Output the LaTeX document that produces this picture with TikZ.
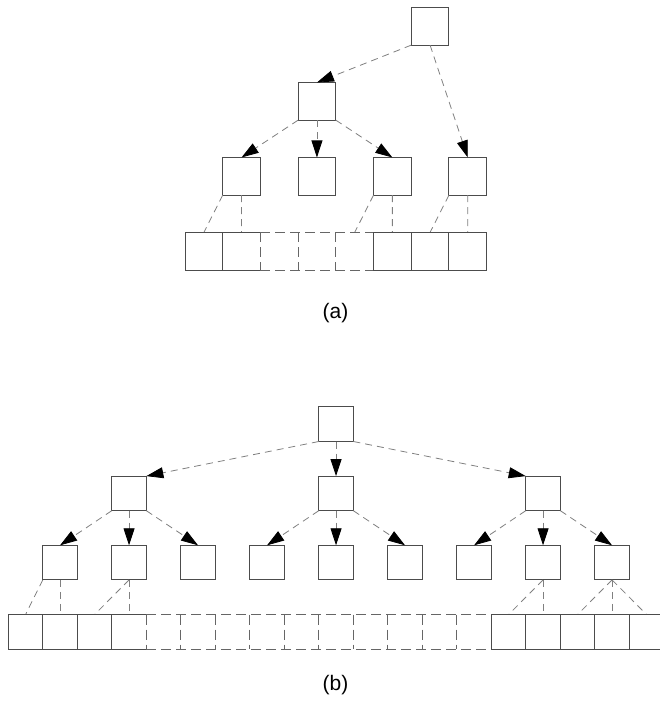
\documentclass[tikz,border=0pt]{standalone}
\usepackage{fontspec}
\setmainfont{Liberation Sans}
\usetikzlibrary{arrows.meta}
\begin{document}
\begin{tikzpicture}[x=1pt,y=-1pt,
  bx/.style={draw=black!70,line width=0.9pt,minimum size=#1,inner sep=0pt,outer sep=0pt},
  cl/.style={minimum size=#1,inner sep=0pt,outer sep=0pt},
  conn/.style={draw=black!50,line width=0.8pt,dash pattern=on 7pt off 5pt},
  arr/.style={conn,-{Triangle[length=17pt,width=11pt,color=black]}},
  rowsolid/.style={draw=black!70,line width=0.9pt},
  rowdash/.style={draw=black!60,line width=0.9pt,dash pattern=on 10pt off 5pt},
  lbl/.style={font=\fontsize{21}{25}\selectfont,inner sep=0pt}]
\useasboundingbox (0,0) rectangle (660,701);

% ---------------- (a) ----------------
\foreach \i in {1,...,8} \node[cl=37.7pt] (ac\i) at ({185+(\i-0.5)*37.7},251.3) {};
\node[bx=37.7pt] (ar) at (430.05,26.3) {};
\node[bx=37.7pt] (am) at (316.95,101.3) {};
\node[bx=37.7pt] (al1) at (241.55,176.3) {};
\node[bx=37.7pt] (al2) at (316.95,176.3) {};
\node[bx=37.7pt] (al3) at (392.35,176.3) {};
\node[bx=37.7pt] (al4) at (467.75,176.3) {};

\draw[arr] (ar.south west) -- (am.north);
\draw[arr] (ar.south) -- (al4.north);
\draw[arr] (am.south west) -- (al1.north);
\draw[arr] (am.south) -- (al2.north);
\draw[arr] (am.south east) -- (al3.north);

\draw[conn] (al1.south west) -- (ac1.north);
\draw[conn] (al1.south) -- (ac2.north);
\draw[conn] (al3.south west) -- (ac5.north);
\draw[conn] (al3.south) -- (ac6.north);
\draw[conn] (al4.south west) -- (ac7.north);
\draw[conn] (al4.south) -- (ac8.north);

\draw[rowsolid] (ac2.north east) -- (ac1.north west) -- (ac1.south west) -- (ac2.south east)
  (ac2.north west) -- (ac2.south west);
\draw[rowdash] (ac2.north east) -- (ac6.north west) (ac2.south east) -- (ac6.south west)
  (ac3.north west) -- (ac3.south west) (ac4.north west) -- (ac4.south west)
  (ac5.north west) -- (ac5.south west);
\draw[rowsolid] (ac6.north west) rectangle (ac8.south east)
  (ac7.north west) -- (ac7.south west) (ac8.north west) -- (ac8.south west);

\node[lbl] (la) at (335.5,313) {(a)};

% ---------------- (b) ----------------
\foreach \i in {1,...,19} \node[cl=34.5pt] (bc\i) at ({8.3+(\i-0.5)*34.5},631.8) {};
\coordinate (bend1) at (660,614.55);
\coordinate (bend2) at (660,649.05);
\node[bx=34.6pt] (br) at (336.05,424.2) {};
\node[bx=34.6pt] (bm1) at (129.05,493.4) {};
\node[bx=34.6pt] (bm2) at (336.05,493.4) {};
\node[bx=34.6pt] (bm3) at (543.05,493.4) {};
\foreach \i in {1,...,9} \node[bx=34.6pt] (bl\i) at ({8.3+(2*\i-0.5)*34.5},562.6) {};

\draw[arr] (br.south west) -- (bm1.north east);
\draw[arr] (br.south) -- (bm2.north);
\draw[arr] (br.south east) -- (bm3.north west);
\draw[arr] (bm1.south west) -- (bl1.north);
\draw[arr] (bm1.south) -- (bl2.north);
\draw[arr] (bm1.south east) -- (bl3.north);
\draw[arr] (bm2.south west) -- (bl4.north);
\draw[arr] (bm2.south) -- (bl5.north);
\draw[arr] (bm2.south east) -- (bl6.north);
\draw[arr] (bm3.south west) -- (bl7.north);
\draw[arr] (bm3.south) -- (bl8.north);
\draw[arr] (bm3.south east) -- (bl9.north);

\draw[conn] (bl1.south west) -- (bc1.north);
\draw[conn] (bl1.south) -- (bc2.north);
\draw[conn] (bl2.south) -- (bc3.north);
\draw[conn] (bl2.south) -- (bc4.north);
\draw[conn] (bl8.south) -- (bc15.north);
\draw[conn] (bl8.south) -- (bc16.north);
\draw[conn] (bl9.south) -- (bc17.north);
\draw[conn] (bl9.south) -- (bc18.north);
\draw[conn] (bl9.south) -- (bc19.north);

\draw[rowsolid] (bc4.north east) -- (bc1.north west) -- (bc1.south west) -- (bc4.south east)
  (bc2.north west) -- (bc2.south west) (bc3.north west) -- (bc3.south west)
  (bc4.north west) -- (bc4.south west);
\draw[rowdash] (bc4.north east) -- (bc15.north west) (bc4.south east) -- (bc15.south west);
\foreach \i in {5,...,14} \draw[rowdash] (bc\i.north west) -- (bc\i.south west);
\draw[rowdash] (bc14.north east) -- (bc14.south east);
\draw[rowsolid] (bend1) -- (bc15.north west) -- (bc15.south west) -- (bend2);
\foreach \i in {15,...,19} \draw[rowsolid] (bc\i.north west) -- (bc\i.south west);

\node[lbl] (lb) at (335.5,684.7) {(b)};
\end{tikzpicture}
\end{document}
